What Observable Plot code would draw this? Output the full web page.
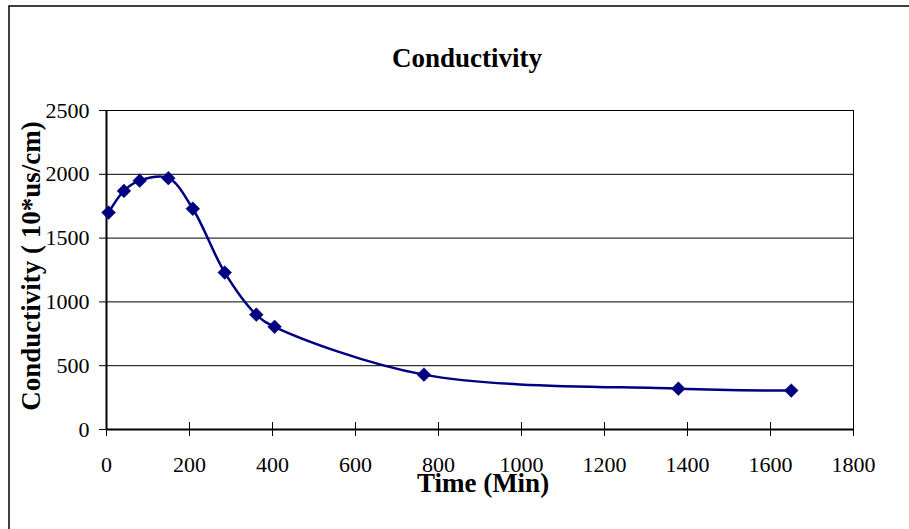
<!DOCTYPE html>
<html>
<head>
<meta charset="utf-8">
<script src="https://cdn.jsdelivr.net/npm/d3@7"></script>
<script src="https://cdn.jsdelivr.net/npm/@observablehq/plot@0.6"></script>
<style>
  html, body { margin: 0; padding: 0; background: #fff; }
  svg { display: block; }
</style>
</head>
<body>
<div id="chart"></div>
<script>
const timeMin = [5, 42, 80, 149, 208, 285, 361, 405, 765, 1378, 1650];
const conductivity = [1700, 1870, 1950, 1970, 1730, 1230, 900, 805, 430, 320, 305];
const xTicks = [0, 200, 400, 600, 800, 1000, 1200, 1400, 1600, 1800];
const yTicks = [0, 500, 1000, 1500, 2000, 2500];
const titleText = "Conductivity";
const xLabel = "Time (Min)";
const yLabel = "Conductivity ( 10*us/cm)";

const data = timeMin.map((t, i) => ({t, c: conductivity[i]}));
const serif = "Liberation Serif";
const fmt = d => String(d);

const chart = Plot.plot({
  width: 909,
  height: 529,
  marginLeft: 106,
  marginRight: 56,
  marginTop: 110,
  marginBottom: 100,
  style: {fontFamily: serif, fontSize: "22px", color: "#000", background: "#fff"},
  x: {domain: [0, 1800], axis: null},
  y: {domain: [0, 2500], axis: null},
  marks: [
    Plot.ruleY(yTicks.filter(d => d > 0), {stroke: "#000", strokeWidth: 1}),
    Plot.ruleX([1800], {stroke: "#000", strokeWidth: 1}),
    Plot.axisY({ticks: yTicks, tickSize: 7, tickPadding: 10, tickFormat: fmt, fontSize: 22, fontFamily: serif, label: null, stroke: "#000"}),
    Plot.axisX({ticks: xTicks, tickSize: 14, dy: -7, tickFormat: () => "", label: null, stroke: "#000"}),
    Plot.axisX({ticks: xTicks, tickSize: 0, tickPadding: 27, tickFormat: fmt, fontSize: 22, fontFamily: serif, label: null}),
    Plot.ruleX([0], {stroke: "#000", strokeWidth: 2}),
    Plot.ruleY([0], {stroke: "#000", strokeWidth: 2}),
    Plot.line(data, {x: "t", y: "c", curve: "catmull-rom", stroke: "#000080", strokeWidth: 2.5}),
    Plot.dot(data, {x: "t", y: "c", symbol: "diamond2", r: 6.2, fill: "#000080", stroke: "#000080", strokeWidth: 0.5}),
    Plot.text([titleText], {frameAnchor: "top", lineAnchor: "middle", dy: -52, dx: -13, fontSize: 27, fontWeight: "bold", fontFamily: serif, fill: "#000"}),
    Plot.text([xLabel], {frameAnchor: "bottom", lineAnchor: "middle", dy: 54, dx: 3, fontSize: 27, fontWeight: "bold", fontFamily: serif, fill: "#000"}),
    Plot.text([yLabel], {frameAnchor: "left", textAnchor: "middle", lineAnchor: "middle", rotate: -90, dx: -75, dy: -4, fontSize: 27, fontWeight: "bold", fontFamily: serif, fill: "#000"})
  ]
});

d3.select(chart).append("rect")
  .attr("x", 9).attr("y", 6).attr("width", 1000).attr("height", 1000)
  .attr("fill", "none").attr("stroke", "#000").attr("stroke-width", 1.5);

document.getElementById("chart").appendChild(chart);
</script>
</body>
</html>
